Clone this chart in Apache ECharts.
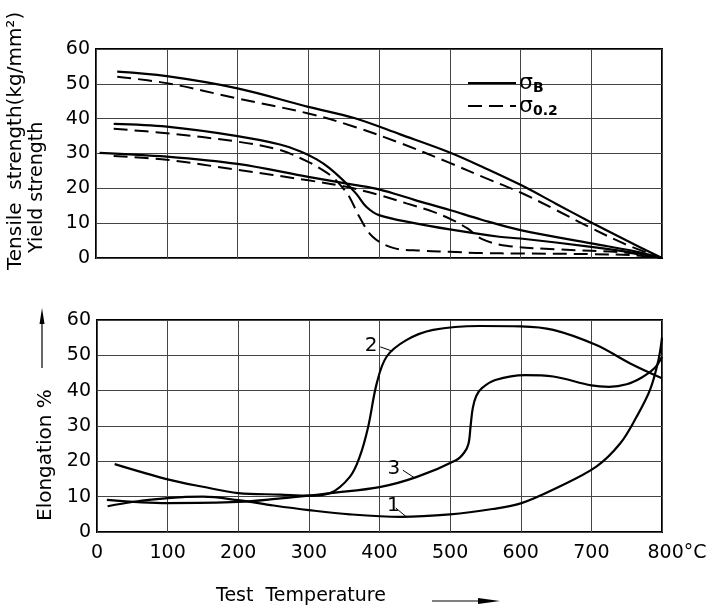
<!DOCTYPE html>
<html><head><meta charset="utf-8">
<script src="https://cdn.jsdelivr.net/npm/echarts@6/dist/echarts.min.js"></script>
<style>html,body{margin:0;padding:0;background:#fff}#c{width:715px;height:612px}</style>
</head><body><div id="c"></div>
<script>
// ---------- Upper chart: tensile (σB, solid) and yield (σ0.2, dashed) strength, kg/mm² ----------
const tempSA = [30,100,200,300,365,430,500,550,600,650,700,750,800];
const sigmaB_A = [53.5,52.2,48.7,43.4,40.2,35.5,30.3,25.8,21,15.6,10.2,5,0];
const tempDA = [30,100,200,300,365,430,500,550,600,650,700,750,800];
const sigma02_A = [52,50.2,45.8,41.5,37.7,33,27.3,23,18.8,13.8,8.6,3.8,0];

const tempSB = [25,100,200,260,290,312,330,354,368,382,400,450,500,570,600,700,760,800];
const sigmaB_B = [38.5,37.7,35,32.6,30.5,28.3,25.8,21.4,18.4,14.7,12.3,10,8.2,6.1,5.6,3.2,1.5,0];
const tempDB = [25,100,200,260,300,320,334,346,358,372,391,420,460,500,545,600,700,760,800];
const sigma02_B = [37.1,35.8,33.4,31,27.6,25.3,23.3,20.8,17.6,11.9,6.1,2.9,2.1,1.8,1.4,1.3,1.1,0.8,0];

const tempSC = [5,100,200,300,365,400,450,500,545,600,700,760,800];
const sigmaB_C = [30.2,29.1,27,23.3,21,19.7,16.7,13.8,11,8,4.2,2,0];
const tempDC = [25,100,200,300,350,400,440,476,504,525,545,580,650,750,800];
const sigma02_C = [29.3,28.2,25.3,22.3,20.6,18.1,15.6,13.3,10.9,8.5,5.5,3.5,2.5,1.5,0];

// ---------- Lower chart: elongation % ----------
const temp1 = [15,50,100,150,200,250,300,358,430,500,560,600,650,707,741,764,783,795,800];
const elong1 = [7.3,8.5,9.6,10,9,7.5,6.2,5,4.3,5,6.5,8.1,12.4,18.5,25.1,32.6,40.2,48.7,55];
const temp2 = [25,100,150,200,259,300,330,358,372,384,396,410,438,476,542,600,646,707,755,800];
const elong2 = [19.2,14.9,12.8,11,10.6,10.3,11,15.6,21.3,29.8,42,49.6,54.3,57.2,58.3,58.2,57.2,52.9,47.7,43.5];
const temp3 = [14,100,200,260,300,330,400,453,509,520,526,529,532,537,545,564,606,646,700,725,750,772,790,800];
const elong3 = [9.1,8.2,8.5,9.5,10.3,11,12.7,15.6,20.4,22.5,25,30,35,38.5,40.7,43,44.4,44,41.5,41.1,41.8,43.8,46.5,49.6];

const xTicks = [0,100,200,300,400,500,600,700,800];
const yTicks = [0,10,20,30,40,50,60];

const zip = (xs, ys) => xs.map((x, i) => [x, ys[i]]);
const FONT = 'DejaVu Sans';

const chart = echarts.init(document.getElementById('c'), null, {renderer: 'canvas'});

const gridStyle = {show: true, lineStyle: {color: '#444', width: 1}};
function xAx(idx, showLabels) {
  return {
    type: 'value', gridIndex: idx, min: xTicks[0], max: xTicks[xTicks.length - 1], interval: 100,
    axisLine: {show: false}, axisTick: {show: false}, splitLine: gridStyle,
    axisLabel: showLabels ? {
      show: true, fontFamily: FONT, fontSize: 19, color: '#000', margin: 12,
      formatter: v => v === 800 ? '{h|}800°C' : String(v),
      rich: {h: {width: 30}}
    } : {show: false}
  };
}
function yAx(idx) {
  return {
    type: 'value', gridIndex: idx, min: yTicks[0], max: yTicks[yTicks.length - 1], interval: 10,
    axisLine: {show: false}, axisTick: {show: false}, splitLine: gridStyle,
    axisLabel: {fontFamily: FONT, fontSize: 19, color: '#000', margin: 6}
  };
}

const solid = {color: '#000', width: 2.2, type: 'solid'};
const dashed = {color: '#000', width: 2, type: [14, 7]};
function ln(name, data, style, xi, extra) {
  return Object.assign({
    name, type: 'line', data, xAxisIndex: xi, yAxisIndex: xi,
    symbol: 'none', showSymbol: false, smooth: 0.35,
    lineStyle: style, itemStyle: {color: '#000'}, silent: true, animation: false, z: 3
  }, extra || {});
}
function leader(text, from, to) {
  return {
    silent: true, symbol: ['none', 'none'], animation: false,
    lineStyle: {color: '#000', width: 1, type: 'solid'},
    label: {show: true, position: 'start', formatter: text, fontFamily: FONT, fontSize: 20, color: '#000', distance: 3},
    data: [[{coord: from}, {coord: to}]]
  };
}

chart.setOption({
  animation: false,
  backgroundColor: '#fff',
  grid: [
    {left: 96, right: 53, top: 49, height: 209, show: true, borderColor: '#000', borderWidth: 2, backgroundColor: 'transparent'},
    {left: 97, right: 53, top: 320, height: 212, show: true, borderColor: '#000', borderWidth: 2, backgroundColor: 'transparent'}
  ],
  xAxis: [xAx(0, false), xAx(1, true)],
  yAxis: [yAx(0), yAx(1)],
  legend: {
    left: 462, top: 67, orient: 'vertical', itemWidth: 48, itemHeight: 12, itemGap: 0,
    selectedMode: false, data: ['σB', 'σ0.2'],
    itemStyle: {opacity: 0},
    formatter: n => n === 'σB' ? '{s|σ}{b|B}' : '{s|σ}{b|0.2}',
    textStyle: {
      color: '#000', fontFamily: FONT, padding: [0, 0, 0, -2],
      rich: {
        s: {fontSize: 22, fontFamily: FONT, color: '#000'},
        b: {fontSize: 14, fontWeight: 'bold', fontFamily: FONT, color: '#000', padding: [10, 0, 0, 0]}
      }
    }
  },
  series: [
    ln('σB', zip(tempSA, sigmaB_A), solid, 0),
    ln('σ0.2', zip(tempDA, sigma02_A), dashed, 0),
    ln('σB', zip(tempSB, sigmaB_B), solid, 0),
    ln('σ0.2', zip(tempDB, sigma02_B), dashed, 0),
    ln('σB', zip(tempSC, sigmaB_C), solid, 0),
    ln('σ0.2', zip(tempDC, sigma02_C), dashed, 0),
    ln('1', zip(temp1, elong1), solid, 1, {markLine: leader('1', [423, 6.8], [438, 4.3])}),
    ln('2', zip(temp2, elong2), solid, 1, {markLine: leader('2', [401, 52.4], [418, 51.2])}),
    ln('3', zip(temp3, elong3), solid, 1, {markLine: leader('3', [433, 17.5], [449, 15.4])})
  ],
  graphic: [
    {type: 'text', x: 16, y: 270, rotation: Math.PI / 2,
      style: {text: 'Tensile  strength(kg/mm²)', font: '20px "DejaVu Sans"', fill: '#000', textAlign: 'left', textVerticalAlign: 'middle'}},
    {type: 'text', x: 37, y: 253, rotation: Math.PI / 2,
      style: {text: 'Yield strength', font: '19px "DejaVu Sans"', fill: '#000', textAlign: 'left', textVerticalAlign: 'middle'}},
    {type: 'text', x: 46, y: 521, rotation: Math.PI / 2,
      style: {text: 'Elongation %', font: '20px "DejaVu Sans"', fill: '#000', textAlign: 'left', textVerticalAlign: 'middle'}},
    {type: 'line', shape: {x1: 42, y1: 368, x2: 42, y2: 318}, style: {stroke: '#000', lineWidth: 1.2}},
    {type: 'polygon', shape: {points: [[42, 308], [39.5, 324], [44.5, 324]]}, style: {fill: '#000'}},
    {type: 'text', x: 216, y: 596,
      style: {text: 'Test  Temperature', font: '19px "DejaVu Sans"', fill: '#000', textAlign: 'left', textVerticalAlign: 'middle'}},
    {type: 'line', shape: {x1: 432, y1: 601, x2: 485, y2: 601}, style: {stroke: '#000', lineWidth: 1.2}},
    {type: 'polygon', shape: {points: [[500, 601], [478, 598], [478, 604]]}, style: {fill: '#000'}}
  ]
});
</script>
</body></html>
